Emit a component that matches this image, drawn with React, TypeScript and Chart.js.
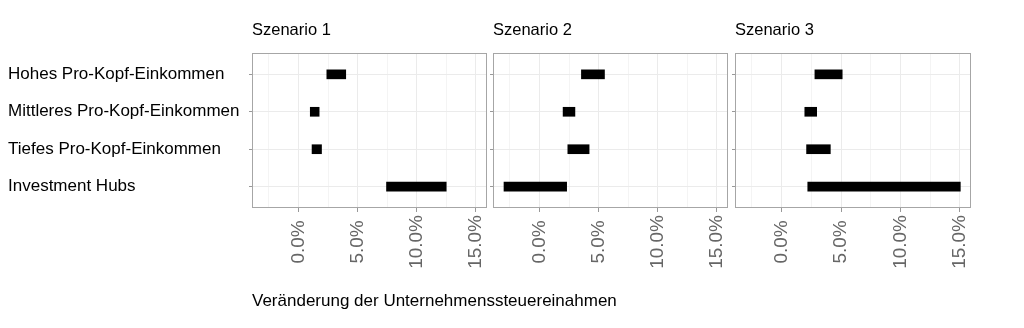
import React, { useEffect, useRef } from "react";
import { Chart, registerables } from "chart.js";

Chart.register(...registerables);

// ---------- data ----------
const categories = [
  "Hohes Pro-Kopf-Einkommen",
  "Mittleres Pro-Kopf-Einkommen",
  "Tiefes Pro-Kopf-Einkommen",
  "Investment Hubs",
];
const scenarioTitles = ["Szenario 1", "Szenario 2", "Szenario 3"];

const scenario1Low = [2.4, 1.0, 1.15, 7.45];
const scenario1High = [4.0, 1.75, 1.95, 12.5];
const scenario2Low = [3.55, 2.0, 2.4, -3.0];
const scenario2High = [5.5, 3.0, 4.2, 2.3];
const scenario3Low = [2.8, 1.95, 2.1, 2.2];
const scenario3High = [5.1, 2.95, 4.1, 15.05];

const xMajorTicks = [0, 5, 10, 15];
const xTickLabels = ["0.0%", "5.0%", "10.0%", "15.0%"];
const xMinorTicks = [-2.5, 2.5, 7.5, 12.5];
const xAxisTitle = "Veränderung der Unternehmenssteuereinahmen";
const xMin = -3.93;
const xMax = 15.95;

// ---------- layout / style ----------
const W = 1024;
const H = 328;
const FONT = '"Liberation Sans", Arial, Helvetica, sans-serif';
const panels = [
  { left: 252, right: 487, yAxisWidth: 244, showLabels: true },
  { left: 493, right: 728, yAxisWidth: 6, showLabels: false },
  { left: 735, right: 971, yAxisWidth: 6, showLabels: false },
];
const lows = [scenario1Low, scenario2Low, scenario3Low];
const highs = [scenario1High, scenario2High, scenario3High];

const panelBorder = {
  id: "panelBorder",
  afterDatasetsDraw(chart: any) {
    const { ctx, chartArea: a } = chart;
    ctx.save();
    ctx.strokeStyle = "#a6a6a6";
    ctx.lineWidth = 1;
    ctx.strokeRect(a.left + 0.5, a.top + 0.5, a.right - a.left - 1, a.bottom - a.top - 1);
    ctx.restore();
  },
};

const axisTitlePlugin = {
  id: "axisTitleWide",
  afterDraw(chart: any) {
    const { ctx, chartArea: a } = chart;
    ctx.save();
    ctx.font = `17px ${FONT}`;
    ctx.fillStyle = "#000";
    ctx.textAlign = "left";
    ctx.textBaseline = "middle";
    ctx.fillText(xAxisTitle, a.left, a.bottom + 93);
    ctx.restore();
  },
};

const isMajor = (v: number) => xMajorTicks.includes(v);

function buildConfig(i: number): any {
  const p = panels[i];
  const maxLabelLen = Math.max(...xTickLabels.map((s) => s.length));
  return {
    type: "bar",
    data: {
      datasets: [
        {
          data: categories.map((_, k) => ({ y: k + 1, x: [lows[i][k], highs[i][k]] })),
          backgroundColor: "#000",
          borderColor: "#000",
          borderWidth: 0,
          barThickness: 9,
        },
      ],
    },
    options: {
      indexAxis: "y",
      responsive: false,
      animation: false,
      layout: { padding: { left: p.left - p.yAxisWidth, right: W - p.right, top: 0, bottom: 0 } },
      plugins: {
        legend: { display: false },
        tooltip: { enabled: false },
        title: {
          display: true,
          text: scenarioTitles[i],
          align: "start",
          fullSize: false,
          color: "#000",
          font: { size: 16.5, family: FONT, weight: "normal", lineHeight: 1.2 },
          padding: { top: 21, bottom: 12.2 },
        },
      },
      scales: {
        x: {
          type: "linear",
          position: "bottom",
          min: xMin,
          max: xMax,
          offset: false,
          afterBuildTicks: (s: any) => {
            s.ticks = [...xMinorTicks, ...xMajorTicks].sort((a, b) => a - b).map((v) => ({ value: v }));
          },
          afterFit: (s: any) => {
            s.height = 120;
          },
          border: { display: false },
          grid: {
            offset: false,
            color: (c: any) => (c.tick && isMajor(c.tick.value) ? "#ebebeb" : "#f4f4f4"),
            lineWidth: 1,
            drawTicks: true,
            tickLength: 4,
            tickColor: (c: any) => (c.tick && isMajor(c.tick.value) ? "#999" : "rgba(0,0,0,0)"),
          },
          ticks: {
            autoSkip: false,
            minRotation: 90,
            maxRotation: 90,
            padding: 3,
            color: "#666",
            font: { size: 19, family: FONT },
            callback: (v: number) => {
              const idx = xMajorTicks.indexOf(v);
              if (idx < 0) return "";
              const lab = xTickLabels[idx];
              return lab + " ".repeat(maxLabelLen - lab.length);
            },
          },
        },
        y: {
          type: "linear",
          position: "left",
          reverse: true,
          min: 0.43,
          max: 4.57,
          offset: false,
          afterBuildTicks: (s: any) => {
            s.ticks = categories.map((_, k) => ({ value: k + 1 }));
          },
          afterFit: (s: any) => {
            s.width = p.yAxisWidth;
          },
          border: { display: false },
          grid: { offset: false, color: "#ebebeb", lineWidth: 1, drawTicks: true, tickLength: 3, tickColor: "#999" },
          ticks: {
            display: p.showLabels,
            crossAlign: "far",
            color: "#000",
            font: { size: 17, family: FONT },
            callback: (v: number) => categories[v - 1] ?? "",
          },
        },
      },
    },
    plugins: i === 0 ? [panelBorder, axisTitlePlugin] : [panelBorder],
  };
}

function Panel({ index }: { index: number }) {
  const ref = useRef<HTMLCanvasElement>(null);
  useEffect(() => {
    if (!ref.current) return;
    const chart = new Chart(ref.current, buildConfig(index));
    return () => chart.destroy();
  }, [index]);
  return (
    <canvas
      ref={ref}
      width={W}
      height={H}
      style={{ position: "absolute", left: 0, top: 0, width: W, height: H }}
    />
  );
}

export default function App() {
  return (
    <div style={{ position: "absolute", left: 0, top: 0, width: W, height: H, background: "#fff" }}>
      {panels.map((_, i) => (
        <Panel key={i} index={i} />
      ))}
    </div>
  );
}
